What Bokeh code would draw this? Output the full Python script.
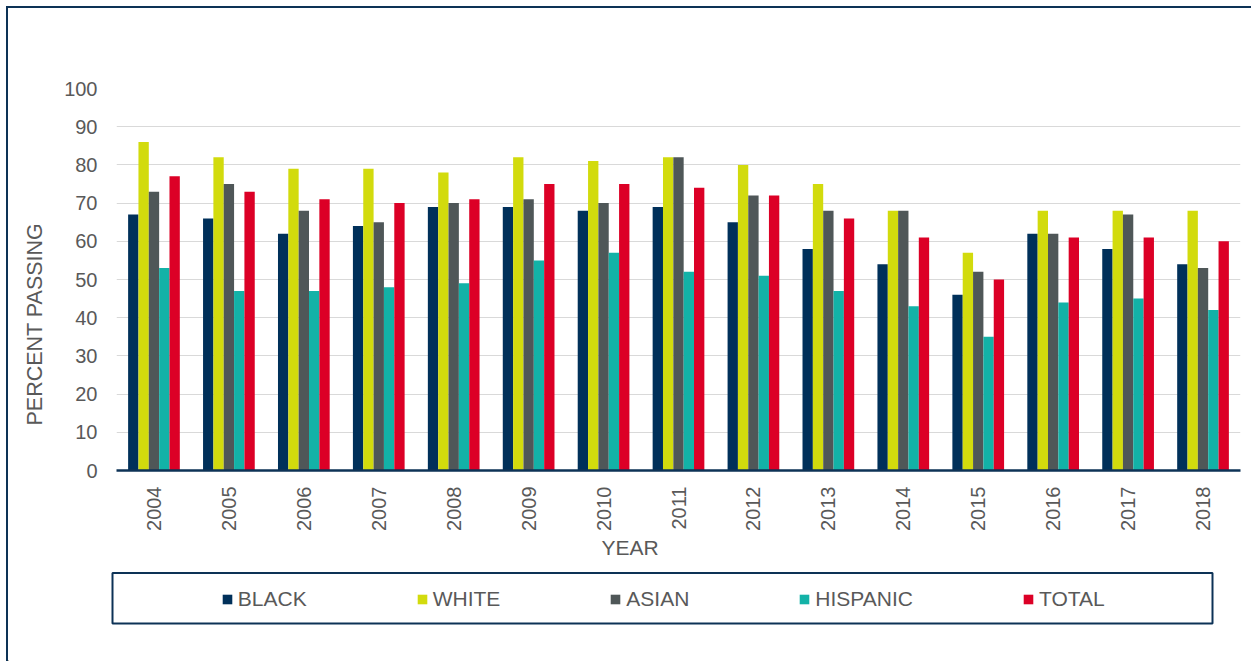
import math
from bokeh.plotting import figure
from bokeh.layouts import column
from bokeh.models import (ColumnDataSource, FactorRange, Legend, LegendItem, Title,
                          BoxAnnotation, FixedTicker, Range1d)
from bokeh.transform import dodge
from bokeh.embed import file_html
from bokeh.resources import INLINE

# ---- data ----
years = ["2004", "2005", "2006", "2007", "2008", "2009", "2010", "2011",
         "2012", "2013", "2014", "2015", "2016", "2017", "2018"]
black = [67, 66, 62, 64, 69, 69, 68, 69, 65, 58, 54, 46, 62, 58, 54]
white = [86, 82, 79, 79, 78, 82, 81, 82, 80, 75, 68, 57, 68, 68, 68]
asian = [73, 75, 68, 65, 70, 71, 70, 82, 72, 68, 68, 52, 62, 67, 53]
hispanic = [53, 47, 47, 48, 49, 55, 57, 52, 51, 47, 43, 35, 44, 45, 42]
total = [77, 73, 71, 70, 71, 75, 75, 74, 72, 66, 61, 50, 61, 61, 60]
series_names = ["BLACK", "WHITE", "ASIAN", "HISPANIC", "TOTAL"]
y_ticks = [0, 10, 20, 30, 40, 50, 60, 70, 80, 90, 100]

colors = ["#00305a", "#d2db0d", "#4f5758", "#13b2a7", "#dc0026"]
TEXT = "#595959"
NAVY = "#0d3256"
FONT = "Liberation Sans"
W = 1245

source = ColumnDataSource(dict(year=years, BLACK=black, WHITE=white, ASIAN=asian,
                               HISPANIC=hispanic, TOTAL=total))

# ---------------- chart ----------------
p = figure(x_range=FactorRange(*years), y_range=(0, 100), width=W, height=562,
           output_backend="svg", toolbar_location=None,
           min_border_left=108, min_border_right=W - 1232, min_border_top=80,
           min_border_bottom=100)
p.outline_line_color = None
p.border_fill_color = "white"

bw = 0.138
for i, (name, col) in enumerate(zip(series_names, colors)):
    p.vbar(x=dodge("year", (i - 2) * bw, range=p.x_range), top=name, width=bw,
           source=source, fill_color=col, line_color=None)

p.xgrid.visible = False
p.ygrid.grid_line_color = "#d9d9d9"
p.ygrid.grid_line_width = 1

p.yaxis.ticker = FixedTicker(ticks=y_ticks)
p.yaxis.axis_line_color = None
p.yaxis.major_tick_line_color = None
p.yaxis.minor_tick_line_color = None
p.yaxis.major_tick_out = 0
p.yaxis.major_tick_in = 0
p.yaxis.major_label_standoff = 19
p.yaxis.major_label_text_font_size = "20px"
p.yaxis.major_label_text_color = TEXT
p.yaxis.major_label_text_font = FONT

p.xaxis.axis_line_color = NAVY
p.xaxis.axis_line_width = 2.5
p.xaxis.major_tick_line_color = None
p.xaxis.minor_tick_line_color = None
p.xaxis.major_tick_out = 0
p.xaxis.major_tick_in = 0
p.xaxis.major_label_orientation = math.pi / 2
p.xaxis.major_label_standoff = 16
p.xaxis.major_label_text_font_size = "20px"
p.xaxis.major_label_text_color = TEXT
p.xaxis.major_label_text_font = FONT

p.add_layout(Title(text="YEAR", align="left", offset=485, vertical_align="top",
                   standoff=4, text_font_size="21px", text_font_style="normal",
                   text_color=TEXT, text_font=FONT), "below")
p.add_layout(Title(text="PERCENT PASSING", align="left", offset=45,
                   vertical_align="middle", standoff=27, text_font_size="21.5px",
                   text_font_style="normal", text_color=TEXT, text_font=FONT), "left")

# ---------------- legend strip ----------------
H2 = 93
q = figure(x_range=Range1d(0, W), y_range=Range1d(0, H2), width=W, height=H2,
           output_backend="svg", toolbar_location=None,
           x_axis_type=None, y_axis_type=None,
           min_border=0, min_border_left=0, min_border_right=0,
           min_border_top=0, min_border_bottom=0)
q.outline_line_color = None
q.xgrid.visible = False
q.ygrid.visible = False

unaligned = True
try:
    p.frame_align = False
    q.frame_align = False
except Exception:
    unaligned = False
fl = 0 if unaligned else 108
fr = W if unaligned else 1232
q.x_range.start = fl
q.x_range.end = fr

items = []
for name, col in zip(series_names, colors):
    r = q.vbar(x=[-5000], top=[1], width=1, fill_color=col, line_color=None)
    items.append(LegendItem(label=name, renderers=[r]))

legend = Legend(items=items, orientation="horizontal", location=(212.8 - fl, 50),
                padding=0, spacing=109, glyph_width=12, glyph_height=12,
                label_standoff=5, label_text_font_size="21px",
                label_text_color=TEXT, label_text_font=FONT,
                border_line_alpha=0, background_fill_alpha=0, margin=0,
                label_height=12)
q.add_layout(legend)
q.add_layout(BoxAnnotation(left=max(104, fl + 1), right=1204, top=88.5, bottom=38,
                           fill_alpha=0, line_color=NAVY, line_width=2,
                           line_alpha=1))

p.styles = {"border-left": "2px solid #0d3256", "border-top": "2px solid #0d3256",
            "margin-left": "6px", "margin-top": "6px"}
q.styles = {"border-left": "2px solid #0d3256", "margin-left": "6px"}

layout = column(p, q, spacing=0)

open("out.html", "w").write(file_html(layout, INLINE))
